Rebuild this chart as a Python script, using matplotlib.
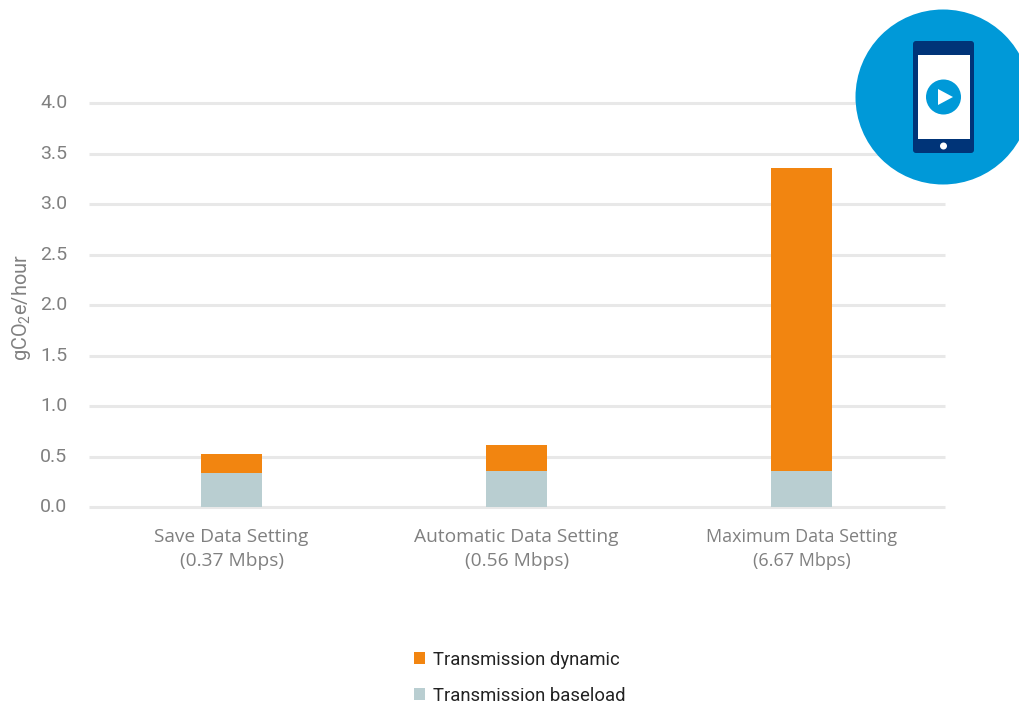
import matplotlib
matplotlib.use("Agg")
import matplotlib.pyplot as plt
from matplotlib.patches import Circle, FancyBboxPatch, Rectangle, Polygon
from matplotlib.transforms import ScaledTranslation

categories = ["Save Data Setting\n(0.37 Mbps)", "Automatic Data Setting\n(0.56 Mbps)", "Maximum Data Setting\n(6.67 Mbps)"]
baseload = [0.337, 0.356, 0.356]
dynamic = [0.19, 0.26, 3.0]
yticks = [0.0, 0.5, 1.0, 1.5, 2.0, 2.5, 3.0, 3.5, 4.0]

W, H = 1019, 704
plt.rcParams['mathtext.default'] = 'regular'
plt.rcParams['font.family'] = ['Roboto', 'DejaVu Sans']
fig = plt.figure(figsize=(W/100, H/100), dpi=100)
ax = fig.add_axes([89/W, 1-507/H, 855.5/W, 404/H])
xs = list(range(len(categories)))
ax.bar(xs, baseload, width=0.214, color="#b9ced1", zorder=3, label="Transmission baseload")
ax.bar(xs, dynamic, width=0.214, bottom=baseload, color="#f28510", zorder=3, label="Transmission dynamic")
ax.set_xlim(-0.5, 2.5)
ax.set_ylim(0, 4)
ax.set_yticks(yticks)
ax.set_yticklabels([f"{v:.1f}" for v in yticks], fontsize=14, color="#808080")
ax.set_xticks(xs)
ax.set_xticklabels(categories, color="#808080", family="Open Sans", linespacing=1.42)
for lab, size in zip(ax.get_xticklabels(), [13.8, 13.8, 13]):
    lab.set_fontsize(size)
ax.tick_params(axis='both', length=0)
ax.tick_params(axis='x', pad=15)
ax.tick_params(axis='y', pad=15.5)
shift = ScaledTranslation(0, 1.2/72, fig.dpi_scale_trans)
for lab in ax.get_yticklabels():
    lab.set_transform(lab.get_transform() + shift)
ax.grid(axis='y', color="#e8e8e8", lw=2.2, zorder=1, clip_on=False)
for ln in ax.get_ygridlines():
    ln.set_solid_capstyle('butt')
for s in ax.spines.values():
    s.set_visible(False)
fig.text(21.5/W, 1-308/H, "gCO$_2$e/hour", rotation=90, ha='center', va='center', fontsize=14.3, color="#808080")

h, l = ax.get_legend_handles_labels()
fig.legend(h[::-1], l[::-1], loc='upper left', bbox_to_anchor=(397/W, 1-634/H), frameon=False,
           fontsize=13.3, labelcolor="#222222", handlelength=0.6, handleheight=0.6,
           handletextpad=0.43, labelspacing=0.98)

ov = fig.add_axes([0, 0, 1, 1], zorder=5)
ov.set_xlim(0, W); ov.set_ylim(H, 0); ov.axis('off'); ov.patch.set_alpha(0)
blue, navy = "#0099d8", "#003478"
ov.add_patch(Circle((943, 97), 87.5, fc=blue, ec='none'))
ov.add_patch(FancyBboxPatch((916, 44), 55, 106, boxstyle="round,pad=3", fc=navy, ec='none'))
ov.add_patch(Rectangle((918, 55), 52, 84, fc='white', ec='none'))
ov.add_patch(Circle((943.5, 97), 17.5, fc=blue, ec='none'))
ov.add_patch(Polygon([(938, 89), (938, 105), (953, 97)], fc='white', ec='none'))
ov.add_patch(Circle((943.5, 146), 3.5, fc='white', ec='none'))

fig.savefig("out.png", dpi=100)
